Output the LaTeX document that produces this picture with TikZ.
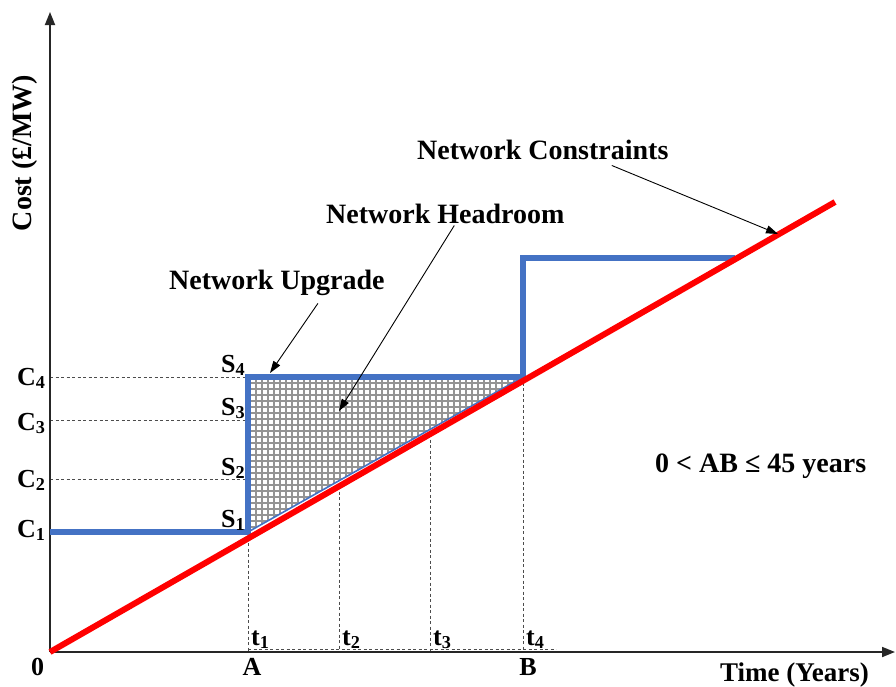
\documentclass[tikz,border=0pt]{standalone}
\usepackage{fontspec}
\setmainfont{Liberation Serif}
\usetikzlibrary{arrows.meta}
\definecolor{upgradeblue}{RGB}{68,114,196}
\definecolor{limitred}{RGB}{255,0,0}
\begin{document}
\begin{tikzpicture}[x=1pt,y=-1pt,
  axis/.style={line width=1.8pt, black!85, -{Triangle[length=13pt,width=10pt]}},
  guide/.style={line width=0.8pt, black!70, dash pattern=on 3pt off 2.5pt},
  note/.style={line width=0.9pt, black, -{Triangle[length=12pt,width=8pt]}},
  upgrade/.style={line width=5.5pt, upgradeblue, line join=miter},
  limit/.style={line width=6pt, limitred},
  hatch/.style={line width=2pt, black!42},
  big/.style={font=\fontsize{28}{30}\selectfont\bfseries, inner sep=0pt, anchor=base west},
  lbl/.style={font=\fontsize{26}{28}\selectfont\bfseries, inner sep=0pt, anchor=base west},
]
\useasboundingbox (0,0) rectangle (896,686);

% key points of the plot
\coordinate (O) at (50,652);
\coordinate (ytop) at (50,12);
\coordinate (xend) at (895,652);
\coordinate (rend) at (835,202);
\coordinate (c1) at (50,532);
\coordinate (c2) at (50,479);
\coordinate (c3) at (50,420);
\coordinate (c4) at (50,377);
\coordinate (s1) at (248,532);
\coordinate (s2) at (248,479);
\coordinate (s3) at (248,420);
\coordinate (s4) at (248,377);
\coordinate (k2) at (339,486);
\coordinate (k3) at (430,434);
\coordinate (k4) at (523,377);
\coordinate (kup) at (523,258);
\coordinate (bend) at (735,258);
\coordinate (f1) at (248,652);
\coordinate (f2) at (339,652);
\coordinate (f3) at (430,652);
\coordinate (f4) at (523,652);
\coordinate (g1) at (248,649.5);
\coordinate (g2) at (556,649.5);
\coordinate (nctip) at (778,234);
\coordinate (nhtip) at (339,411);
\coordinate (nutip) at (270,373);

% guide lines
\draw[guide] (c2) -- (s2);
\draw[guide] (c3) -- (s3);
\draw[guide] (c4) -- (s4);
\draw[guide] (s1) -- (f1);
\draw[guide] (k2) -- (f2);
\draw[guide] (k3) -- (f3);
\draw[guide] (k4) -- (f4);
\draw[guide] (g1) -- (g2);

% headroom area, cross-hatched
\begin{scope}
  \clip (s1) -- (s4) -- (k4) -- cycle;
  \begin{scope}[shift={(4,5)}]
    \draw[hatch, step=6pt] (230,360) grid (530,540);
  \end{scope}
\end{scope}
\draw[upgradeblue, line width=1.6pt] (s1) -- (k4);

% axes
\draw[axis] (O) -- (ytop);
\draw[axis] (O) -- (xend);

% upgrade steps and constraint line
\draw[upgrade] (c1) -- (s1) -- (s4) -- (k4) -- (kup) -- (bend);
\draw[limit] (O) -- (rend);

% axis labels
\node[big, rotate=90, anchor=center] (ylab) at (25,153) {Cost (£/MW)};
\node[lbl, font=\fontsize{27}{29}\selectfont\bfseries] (xlab) at (720,681) {Time (Years)};
\node[lbl] (zero) at (31,675) {0};
\node[lbl, anchor=base] (A) at (252,675) {A};
\node[lbl, anchor=base] (B) at (528,675) {B};

\node[lbl] (C1) at (17,537) {C\textsubscript{1}};
\node[lbl] (C2) at (17,487) {C\textsubscript{2}};
\node[lbl] (C3) at (17,430) {C\textsubscript{3}};
\node[lbl] (C4) at (17,385) {C\textsubscript{4}};

\node[lbl] (S1) at (221,527) {S\textsubscript{1}};
\node[lbl] (S2) at (221,475) {S\textsubscript{2}};
\node[lbl] (S3) at (221,415) {S\textsubscript{3}};
\node[lbl] (S4) at (221,372) {S\textsubscript{4}};

\node[lbl] (t1) at (251,645) {t\textsubscript{1}};
\node[lbl] (t2) at (342,645) {t\textsubscript{2}};
\node[lbl] (t3) at (433,645) {t\textsubscript{3}};
\node[lbl] (t4) at (526,645) {t\textsubscript{4}};

% annotations
\node[big] (nc) at (417,159) {Network Constraints};
\node[big] (nh) at (326,223) {Network Headroom};
\node[big] (nu) at (169,289) {Network Upgrade};
\node[big] (ab) at (655,472) {0 < AB ≤ 45 years};

\draw[note] ([shift={(69,6)}]nc.south) -- (nctip);
\draw[note] ([shift={(9,2)}]nh.south) -- (nhtip);
\draw[note] ([shift={(41,8)}]nu.south) -- (nutip);
\end{tikzpicture}
\end{document}
